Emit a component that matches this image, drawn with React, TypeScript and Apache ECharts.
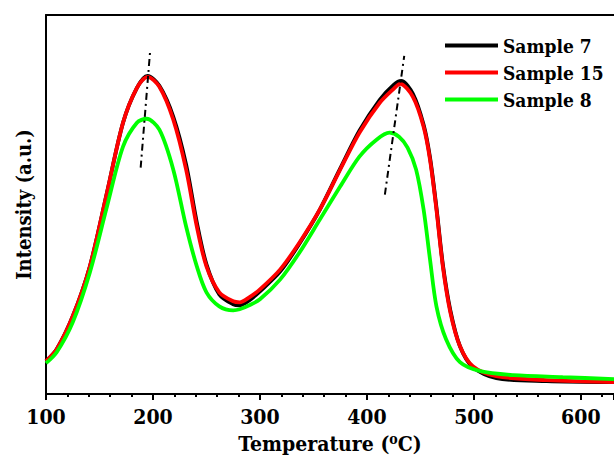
import React, { useEffect, useRef } from "react";
import * as echarts from "echarts";

const temperatureTicks = [100, 200, 300, 400, 500, 600];
const seriesNames = ["Sample 7", "Sample 15", "Sample 8"];
const seriesColors = ["#000000", "#ff0000", "#00ff00"];

// Sample 7 (black)
const sample7: [number, number][] = [
  [100, 33], [110, 45], [125, 78], [141, 128], [157, 202], [172, 272], [185, 307],
  [195, 319], [206, 309], [219, 278], [231, 230], [241, 172], [250, 130], [262, 100],
  [275, 90], [281, 89], [290, 94], [300, 103], [319, 123], [337, 151], [356, 185],
  [375, 226], [393, 264], [412, 295], [425, 310], [432, 314], [443, 301], [453, 270],
  [459, 237], [465, 187], [471, 130], [478, 84], [487, 48], [499, 27], [521, 16],
  [568, 13], [631, 12],
];

// Sample 15 (red)
const sample15: [number, number][] = [
  [100, 33], [110, 45], [125, 78], [141, 128], [157, 202], [172, 272], [185, 307],
  [195, 318], [206, 308], [219, 275], [231, 225], [241, 168], [250, 128], [262, 102],
  [275, 93], [281, 92], [290, 97], [300, 105], [319, 125], [337, 152], [356, 185],
  [375, 225], [393, 262], [412, 292], [425, 306], [431, 311], [443, 298], [453, 268],
  [459, 235], [465, 185], [471, 128], [478, 82], [487, 48], [499, 28], [521, 18],
  [568, 14], [631, 12],
];

// Sample 8 (green)
const sample8: [number, number][] = [
  [100, 31], [110, 42], [125, 72], [141, 122], [157, 188], [172, 248], [185, 272],
  [194, 276], [206, 265], [219, 225], [231, 168], [241, 128], [250, 102], [262, 88],
  [275, 84], [281, 85], [290, 89], [300, 95], [319, 115], [337, 142], [356, 175],
  [375, 208], [393, 238], [409, 255], [421, 262], [430, 258], [438, 247], [446, 225],
  [453, 185], [459, 135], [465, 88], [474, 55], [487, 32], [506, 23], [537, 19],
  [583, 17], [631, 15],
];

// dash-dot guide lines through the peaks
const guideLeft: [number, number][] = [[188.5, 227], [197.2, 342]];
const guideRight: [number, number][] = [[416.8, 200], [434.9, 339]];

const FONT = "'DejaVu Serif Condensed', 'DejaVu Serif', serif";

export default function App() {
  const ref = useRef<HTMLDivElement>(null);
  useEffect(() => {
    if (!ref.current) return;
    const chart = echarts.init(ref.current, undefined, { renderer: "svg" });
    const data = [sample7, sample15, sample8];
    chart.setOption({
      animation: false,
      backgroundColor: "#ffffff",
      textStyle: { fontFamily: FONT },
      grid: { left: 46, right: 0, top: 15, bottom: 63, containLabel: false },
      legend: {
        data: seriesNames,
        orient: "vertical",
        left: 440,
        top: 31,
        icon: "rect",
        itemWidth: 53,
        itemHeight: 4,
        itemGap: 8,
        textStyle: { fontFamily: FONT, fontWeight: "bold", fontSize: 19, color: "#000" },
      },
      xAxis: [
        {
          type: "value",
          min: 100,
          max: 631,
          interval: 100,
          name: "{a|Temperature (}{s|o}{a|C)}",
          nameLocation: "middle",
          nameGap: 33,
          nameTextStyle: {
            rich: {
              a: { fontFamily: FONT, fontWeight: "bold", fontSize: 21, color: "#000" },
              s: { fontFamily: FONT, fontWeight: "bold", fontSize: 14, color: "#000", verticalAlign: "top", padding: [0, 0, 9, 0] },
            },
          },
          axisLine: { show: true, lineStyle: { color: "#000", width: 2 } },
          axisTick: { show: true, inside: false, length: 6, lineStyle: { color: "#000", width: 2 } },
          minorTick: { show: true, splitNumber: 5, length: 3, lineStyle: { color: "#000", width: 2 } },
          axisLabel: {
            show: true,
            margin: 12,
            showMaxLabel: false,
            fontFamily: FONT,
            fontWeight: "bold",
            fontSize: 21,
            color: "#000",
            formatter: (v: number) => (temperatureTicks.includes(v) ? String(v) : ""),
          },
          splitLine: { show: false },
        },
        {
          type: "value",
          position: "top",
          min: 100,
          max: 631,
          axisLine: { show: true, lineStyle: { color: "#000", width: 2 } },
          axisTick: { show: false },
          axisLabel: { show: false },
          splitLine: { show: false },
        },
      ],
      yAxis: {
        type: "value",
        min: 0,
        max: 380,
        name: "Intensity (a.u.)",
        nameLocation: "middle",
        nameGap: 12,
        nameTextStyle: { fontFamily: FONT, fontWeight: "bold", fontSize: 20, color: "#000" },
        axisLine: { show: true, lineStyle: { color: "#000", width: 2 } },
        axisTick: { show: false },
        axisLabel: { show: false },
        splitLine: { show: false },
      },
      series: [
        ...data.map((d, i) => ({
          name: seriesNames[i],
          type: "line",
          data: d,
          smooth: 0.3,
          symbol: "none",
          lineStyle: { color: seriesColors[i], width: 3.8 },
          itemStyle: { color: seriesColors[i] },
          z: 2 + i,
        })),
        ...[guideLeft, guideRight].map((g) => ({
          type: "line",
          data: g,
          symbol: "none",
          silent: true,
          lineStyle: { color: "#000", width: 2, type: [7, 4, 2, 4] },
          z: 10,
        })),
      ],
    });
    return () => chart.dispose();
  }, []);
  return (
    <div
      ref={ref}
      style={{ position: "fixed", left: 0, top: 0, width: 614, height: 459 }}
    />
  );
}
